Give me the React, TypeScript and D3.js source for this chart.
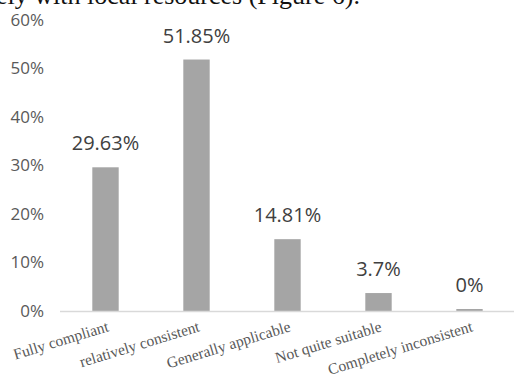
import React from "react";
import * as d3 from "d3";

const categories = [
  "Fully compliant",
  "relatively consistent",
  "Generally applicable",
  "Not quite suitable",
  "Completely inconsistent",
];
const values = [29.63, 51.85, 14.81, 3.7, 0];
const valueLabels = ["29.63%", "51.85%", "14.81%", "3.7%", "0%"];
const yTicks = [0, 10, 20, 30, 40, 50, 60];
const captionText = "ely with local resources (Figure 6).";

const W = 514;
const H = 378;

export default function App() {
  const x = d3.scaleBand<string>().domain(categories).range([60, 515]).paddingInner(0.71).paddingOuter(0.355);
  const y = d3.scaleLinear().domain([0, 60]).range([311, 20]);
  const bw = x.bandwidth();

  return (
    <svg
      width={W}
      height={H}
      style={{ position: "absolute", left: 0, top: 0, background: "#fff" }}
    >
      <rect x={0} y={0} width={W} height={H} fill="#fff" />
      <text x={-4} y={4} fontFamily="'Liberation Serif', serif" fontSize={26} fill="#111">
        {captionText}
      </text>
      {yTicks.map((t) => (
        <text
          key={t}
          x={44}
          y={y(t)}
          dy="0.35em"
          textAnchor="end"
          fontFamily="'Open Sans', sans-serif"
          fontSize={17}
          fill="#595959"
        >
          {t}%
        </text>
      ))}
      {categories.map((c, i) => {
        const h = Math.max(y(0) - y(values[i]), 2);
        return (
          <g key={c}>
            <rect x={x(c)!} y={y(0) - h} width={bw} height={h} fill="#a5a5a5" />
            <text
              x={x(c)! + bw / 2}
              y={y(0) - h - 17}
              textAnchor="middle"
              fontFamily="'Open Sans', sans-serif"
              fontSize={20}
              fill="#404040"
            >
              {valueLabels[i]}
            </text>
          </g>
        );
      })}
      <line x1={60} x2={514} y1={y(0) + 0.5} y2={y(0) + 0.5} stroke="#d9d9d9" strokeWidth={1.5} />
      {categories.map((c) => {
        const cx = x(c)! + bw / 2 + 4;
        const cy = 331;
        return (
          <text
            key={c + "-lab"}
            x={cx}
            y={cy}
            textAnchor="end"
            transform={`rotate(-17 ${cx} ${cy})`}
            fontFamily="'Liberation Serif', serif"
            fontSize={15.5}
            fill="#595959"
          >
            {c}
          </text>
        );
      })}
    </svg>
  );
}
